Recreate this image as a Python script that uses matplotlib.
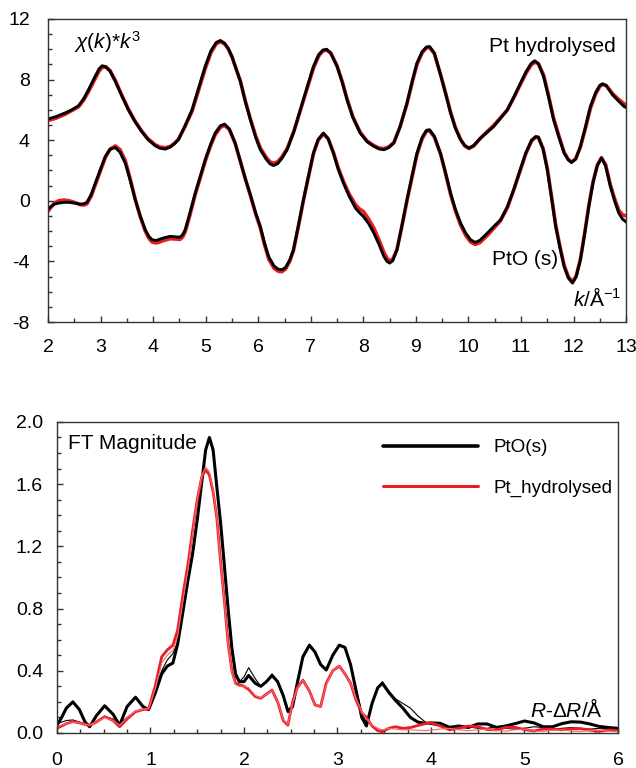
import numpy as np
import matplotlib
matplotlib.use('Agg')
import matplotlib.pyplot as plt
from matplotlib.ticker import MultipleLocator, FormatStrFormatter
from matplotlib.lines import Line2D

# --- EXAFS data ---

# top panel, Pt hydrolysed (offset curve), k in 1/A
k_hyd = [2.00, 2.15, 2.32, 2.45, 2.58, 2.68, 2.77, 2.88, 2.97, 3.03, 3.10, 3.18, 3.28, 3.40, 3.53,
         3.65, 3.78, 3.90, 4.04, 4.13, 4.23, 4.33, 4.40, 4.48, 4.60, 4.74, 4.87, 4.99, 5.10, 5.20,
         5.28, 5.36, 5.43, 5.50, 5.58, 5.66, 5.75, 5.85, 5.95, 6.04, 6.15, 6.22, 6.29, 6.37, 6.45,
         6.55, 6.68, 6.80, 6.93, 7.05, 7.15, 7.23, 7.30, 7.38, 7.50, 7.60, 7.69, 7.80, 7.94, 8.07,
         8.20, 8.30, 8.39, 8.48, 8.58, 8.70, 8.83, 8.93, 9.02, 9.12, 9.20, 9.26, 9.35, 9.47, 9.57,
         9.66, 9.75, 9.85, 9.93, 10.01, 10.10, 10.23, 10.35, 10.48, 10.60, 10.74, 10.87, 10.99, 11.10, 11.19,
         11.26, 11.33, 11.43, 11.52, 11.62, 11.72, 11.82, 11.90, 11.96, 12.04, 12.13, 12.22, 12.32, 12.42, 12.50,
         12.55, 12.62, 12.74, 12.85, 12.96, 13.00]
hyd_data = [5.40, 5.55, 5.79, 6.00, 6.27, 6.75, 7.33, 8.10, 8.70, 8.91, 8.85, 8.55, 7.88, 6.95, 6.00,
            5.25, 4.58, 4.05, 3.63, 3.47, 3.41, 3.55, 3.75, 4.03, 4.90, 6.00, 7.50, 8.87, 9.90, 10.45,
            10.58, 10.40, 10.05, 9.52, 8.70, 7.88, 6.60, 5.35, 4.20, 3.37, 2.75, 2.45, 2.33, 2.45, 2.80,
            3.37, 4.60, 6.00, 7.50, 8.87, 9.65, 9.95, 10.00, 9.75, 8.87, 7.80, 6.67, 5.50, 4.47, 3.90,
            3.59, 3.42, 3.37, 3.50, 3.81, 4.90, 6.45, 7.90, 9.09, 9.85, 10.15, 10.18, 9.75, 8.30, 7.00,
            5.79, 4.80, 4.03, 3.65, 3.48, 3.65, 4.14, 4.50, 4.90, 5.40, 6.00, 6.90, 7.77, 8.55, 9.05,
            9.24, 9.05, 8.20, 6.90, 5.35, 4.20, 3.15, 2.70, 2.53, 2.75, 3.59, 4.80, 6.23, 7.15, 7.62,
            7.72, 7.60, 7.00, 6.60, 6.23, 6.15]
hyd_fit = [5.30, 5.45, 5.70, 5.95, 6.20, 6.65, 7.20, 7.95, 8.55, 8.80, 8.82, 8.60, 7.95, 7.00, 6.05,
           5.30, 4.62, 4.10, 3.70, 3.55, 3.50, 3.60, 3.78, 4.05, 4.85, 5.90, 7.35, 8.70, 9.78, 10.35,
           10.50, 10.35, 10.02, 9.50, 8.70, 7.90, 6.65, 5.42, 4.30, 3.48, 2.88, 2.58, 2.48, 2.58, 2.90,
           3.45, 4.60, 5.95, 7.40, 8.75, 9.55, 9.88, 9.95, 9.75, 8.90, 7.85, 6.72, 5.55, 4.52, 3.95,
           3.65, 3.48, 3.45, 3.55, 3.85, 4.90, 6.40, 7.82, 9.00, 9.78, 10.08, 10.12, 9.72, 8.32, 7.05,
           5.85, 4.85, 4.05, 3.62, 3.45, 3.62, 4.14, 4.55, 4.98, 5.45, 6.00, 6.85, 7.70, 8.45, 8.95,
           9.15, 9.05, 8.30, 7.00, 5.45, 4.30, 3.20, 2.72, 2.55, 2.78, 3.55, 4.70, 6.10, 7.05, 7.55,
           7.68, 7.62, 7.08, 6.72, 6.40, 6.35]

# top panel, PtO (s)
k_pto = [2.00, 2.05, 2.12, 2.20, 2.30, 2.40, 2.50, 2.61, 2.68, 2.74, 2.82, 2.90, 3.00, 3.09, 3.18,
         3.28, 3.37, 3.47, 3.56, 3.66, 3.75, 3.85, 3.92, 3.98, 4.05, 4.10, 4.20, 4.32, 4.42, 4.51,
         4.56, 4.61, 4.70, 4.80, 4.90, 4.99, 5.09, 5.18, 5.28, 5.36, 5.45, 5.56, 5.66, 5.75, 5.85,
         5.95, 6.04, 6.12, 6.20, 6.30, 6.38, 6.45, 6.52, 6.60, 6.67, 6.76, 6.86, 6.96, 7.05, 7.14,
         7.24, 7.33, 7.43, 7.52, 7.62, 7.73, 7.85, 7.93, 8.00, 8.10, 8.20, 8.30, 8.39, 8.45, 8.50,
         8.56, 8.64, 8.73, 8.83, 8.93, 9.02, 9.12, 9.20, 9.26, 9.35, 9.47, 9.56, 9.66, 9.75, 9.85,
         9.95, 10.04, 10.13, 10.22, 10.36, 10.48, 10.61, 10.74, 10.86, 10.98, 11.09, 11.20, 11.28, 11.33, 11.42,
         11.50, 11.58, 11.66, 11.74, 11.82, 11.90, 11.98, 12.05, 12.13, 12.21, 12.29, 12.37, 12.45, 12.53, 12.61,
         12.70, 12.78, 12.86, 12.93, 13.00]
pto_data = [-0.55, -0.40, -0.22, -0.15, -0.10, -0.10, -0.15, -0.22, -0.20, -0.10, 0.40, 1.17, 2.10, 2.93, 3.40,
            3.52, 3.20, 2.49, 1.40, 0.07, -0.95, -1.91, -2.35, -2.57, -2.62, -2.57, -2.45, -2.35, -2.38, -2.40,
            -2.25, -1.91, -0.80, 0.50, 1.65, 2.70, 3.70, 4.47, 4.95, 5.06, 4.75, 3.81, 2.60, 1.50, 0.40,
            -0.80, -1.70, -2.80, -3.70, -4.30, -4.52, -4.55, -4.40, -3.90, -3.23, -1.70, 0.07, 1.70, 3.15, 4.05,
            4.47, 4.10, 3.15, 2.10, 1.17, 0.30, -0.48, -0.80, -1.03, -1.50, -2.13, -2.90, -3.67, -4.00, -4.11,
            -3.95, -3.23, -1.70, 0.07, 1.70, 3.15, 4.20, 4.65, 4.69, 4.25, 3.10, 1.90, 0.50, -0.55, -1.47,
            -2.15, -2.57, -2.75, -2.60, -2.13, -1.70, -1.25, -0.40, 0.73, 2.00, 3.15, 4.00, 4.24, 4.20, 3.40,
            2.05, 0.20, -1.70, -3.10, -4.34, -5.10, -5.43, -5.00, -3.89, -2.20, -0.38, 1.20, 2.30, 2.82, 2.30,
            0.95, 0.00, -0.81, -1.20, -1.40]
pto_fit = [-0.70, -0.45, -0.15, 0.00, 0.05, 0.00, -0.10, -0.25, -0.28, -0.20, 0.30, 1.05, 2.00, 2.85, 3.40,
           3.62, 3.38, 2.65, 1.50, 0.10, -1.00, -2.00, -2.48, -2.72, -2.78, -2.75, -2.62, -2.50, -2.52, -2.55,
           -2.40, -2.05, -0.95, 0.40, 1.55, 2.60, 3.60, 4.35, 4.85, 4.98, 4.70, 3.80, 2.60, 1.50, 0.35,
           -0.85, -1.80, -2.90, -3.85, -4.45, -4.65, -4.68, -4.50, -3.98, -3.30, -1.75, 0.02, 1.65, 3.10, 4.00,
           4.42, 4.10, 3.20, 2.20, 1.30, 0.45, -0.25, -0.55, -0.70, -1.20, -1.80, -2.60, -3.40, -3.80, -3.95,
           -3.85, -3.20, -1.75, 0.00, 1.62, 3.05, 4.10, 4.58, 4.62, 4.22, 3.08, 1.85, 0.42, -0.65, -1.60,
           -2.30, -2.72, -2.88, -2.75, -2.28, -1.82, -1.32, -0.45, 0.70, 1.95, 3.10, 3.95, 4.20, 4.18, 3.45,
           2.15, 0.30, -1.60, -3.00, -4.25, -5.00, -5.35, -4.95, -3.85, -2.15, -0.30, 1.25, 2.35, 2.85, 2.38,
           1.05, 0.15, -0.62, -0.92, -1.00]

# bottom panel, FT magnitude, R in A
r = [0.00, 0.05, 0.10, 0.17, 0.24, 0.30, 0.35, 0.42, 0.51, 0.60, 0.67, 0.75, 0.84, 0.92, 0.98,
     1.05, 1.12, 1.18, 1.24, 1.29, 1.35, 1.40, 1.45, 1.50, 1.55, 1.59, 1.63, 1.67, 1.71, 1.75,
     1.79, 1.83, 1.87, 1.91, 1.95, 2.00, 2.05, 2.12, 2.18, 2.24, 2.30, 2.36, 2.42, 2.47, 2.52,
     2.57, 2.63, 2.70, 2.76, 2.82, 2.88, 2.95, 3.02, 3.08, 3.14, 3.20, 3.26, 3.31, 3.37, 3.43,
     3.48, 3.55, 3.62, 3.70, 3.78, 3.86, 3.94, 4.00, 4.1, 4.2, 4.3, 4.4, 4.5, 4.6, 4.7,
     4.8, 4.9, 5.0, 5.1, 5.2, 5.3, 5.4, 5.5, 5.6, 5.7, 5.8, 5.9, 6.0]
ft_pto_data = [0.05, 0.10, 0.16, 0.20, 0.15, 0.07, 0.04, 0.11, 0.175, 0.12, 0.05, 0.17, 0.23, 0.17, 0.15,
               0.255, 0.38, 0.43, 0.45, 0.57, 0.79, 0.98, 1.15, 1.37, 1.62, 1.82, 1.90, 1.82, 1.58, 1.35,
               1.08, 0.80, 0.55, 0.38, 0.33, 0.33, 0.37, 0.32, 0.30, 0.33, 0.37, 0.33, 0.24, 0.14, 0.17,
               0.32, 0.49, 0.565, 0.52, 0.44, 0.405, 0.50, 0.565, 0.55, 0.44, 0.27, 0.10, 0.045, 0.19, 0.29,
               0.32, 0.26, 0.21, 0.16, 0.10, 0.07, 0.062, 0.065, 0.062, 0.036, 0.045, 0.035, 0.058, 0.058, 0.036,
               0.045, 0.06, 0.077, 0.065, 0.04, 0.04, 0.06, 0.072, 0.07, 0.058, 0.042, 0.035, 0.03]
ft_pto_fit = [0.06, 0.07, 0.08, 0.084, 0.07, 0.055, 0.05, 0.07, 0.105, 0.09, 0.06, 0.10, 0.137, 0.15, 0.155,
              0.27, 0.40, 0.47, 0.51, 0.58, 0.80, 0.99, 1.16, 1.38, 1.62, 1.81, 1.89, 1.81, 1.57, 1.33,
              1.05, 0.77, 0.52, 0.36, 0.33, 0.36, 0.42, 0.35, 0.30, 0.33, 0.38, 0.33, 0.23, 0.13, 0.16,
              0.31, 0.48, 0.56, 0.52, 0.44, 0.41, 0.50, 0.56, 0.55, 0.44, 0.28, 0.13, 0.07, 0.18, 0.29,
              0.33, 0.27, 0.22, 0.19, 0.16, 0.11, 0.07, 0.055, 0.045, 0.03, 0.035, 0.04, 0.03, 0.03, 0.04,
              0.03, 0.025, 0.03, 0.04, 0.035, 0.025, 0.03, 0.035, 0.03, 0.025, 0.03, 0.03, 0.025]
ft_hyd_data = [0.03, 0.045, 0.06, 0.073, 0.065, 0.055, 0.05, 0.07, 0.105, 0.08, 0.04, 0.09, 0.137, 0.15, 0.155,
               0.30, 0.49, 0.534, 0.565, 0.66, 0.90, 1.08, 1.30, 1.50, 1.65, 1.69, 1.66, 1.55, 1.38, 1.10,
               0.85, 0.58, 0.40, 0.32, 0.31, 0.30, 0.28, 0.234, 0.223, 0.25, 0.276, 0.20, 0.08, 0.05, 0.20,
               0.29, 0.34, 0.27, 0.18, 0.17, 0.32, 0.40, 0.43, 0.38, 0.32, 0.21, 0.13, 0.10, 0.045, 0.015,
               0.008, 0.03, 0.04, 0.03, 0.035, 0.048, 0.06, 0.065, 0.045, 0.02, 0.03, 0.045, 0.04, 0.022, 0.02,
               0.036, 0.036, 0.022, 0.013, 0.025, 0.025, 0.02, 0.027, 0.028, 0.018, 0.01, 0.02, 0.013]
ft_hyd_fit = [0.04, 0.05, 0.06, 0.07, 0.065, 0.055, 0.05, 0.07, 0.10, 0.08, 0.05, 0.10, 0.14, 0.15, 0.16,
              0.28, 0.45, 0.50, 0.53, 0.62, 0.86, 1.05, 1.28, 1.50, 1.66, 1.71, 1.68, 1.56, 1.38, 1.10,
              0.84, 0.57, 0.39, 0.31, 0.30, 0.30, 0.29, 0.24, 0.225, 0.25, 0.275, 0.20, 0.085, 0.055, 0.19,
              0.29, 0.34, 0.27, 0.18, 0.17, 0.31, 0.40, 0.43, 0.38, 0.32, 0.22, 0.14, 0.09, 0.05, 0.03,
              0.02, 0.03, 0.025, 0.02, 0.02, 0.018, 0.015, 0.018, 0.025, 0.03, 0.02, 0.015, 0.02, 0.025, 0.015,
              0.012, 0.02, 0.025, 0.015, 0.01, 0.018, 0.02, 0.012, 0.01, 0.015, 0.018, 0.012, 0.01]

RED = '#ed1c24'


def style_axes(ax):
    for s in ax.spines.values():
        s.set_color('#333333')
        s.set_linewidth(1.0)
    ax.tick_params(which='both', direction='in', color='#333333', width=1.0,
                   top=False, right=False, labelsize=14)
    ax.tick_params(which='major', length=4)
    ax.tick_params(which='minor', length=3)


def main():
    plt.rcParams['font.family'] = ['Liberation Sans', 'DejaVu Sans']
    plt.rcParams['mathtext.fontset'] = 'custom'
    plt.rcParams['mathtext.rm'] = 'Liberation Sans'
    plt.rcParams['mathtext.it'] = 'Liberation Sans:italic'
    plt.rcParams['axes.unicode_minus'] = False
    plt.rcParams['lines.solid_joinstyle'] = 'round'
    plt.rcParams['lines.solid_capstyle'] = 'round'

    fig = plt.figure(figsize=(6.36, 7.68), dpi=100)

    # --- top panel: chi(k)*k^3 ---
    ax1 = fig.add_axes([0.0755, 0.5807, 0.909, 0.3946])
    ax1.plot(k_hyd, hyd_fit, color=RED, lw=2.6)
    ax1.plot(k_hyd, hyd_data, color='black', lw=2.1)
    ax1.plot(k_pto, pto_fit, color=RED, lw=2.6)
    ax1.plot(k_pto, pto_data, color='black', lw=2.1)
    ax1.set_xlim(2, 13)
    ax1.set_ylim(-8, 12)
    ax1.xaxis.set_major_locator(MultipleLocator(1))
    ax1.xaxis.set_minor_locator(MultipleLocator(0.5))
    ax1.yaxis.set_major_locator(MultipleLocator(4))
    ax1.yaxis.set_minor_locator(MultipleLocator(1))
    style_axes(ax1)
    ax1.tick_params(axis='x', which='major', pad=12)
    ax1.tick_params(axis='y', which='major', pad=13)

    ax1.text(2.5, 10.45, r'$\chi(k)$*$k^{\mathregular{3}}$', fontsize=15, ha='left', va='center')
    ax1.text(12.8, 10.2, 'Pt hydrolysed', fontsize=15, ha='right', va='center')
    ax1.text(10.45, -3.85, 'PtO (s)', fontsize=15, ha='left', va='center')
    ax1.text(12.9, -6.45, r'$k$/Å$^{\mathregular{-1}}$', fontsize=15, ha='right', va='center')

    # --- bottom panel: FT magnitude ---
    ax2 = fig.add_axes([0.0896, 0.0456, 0.882, 0.405])
    ax2.plot(r, ft_pto_data, color='black', lw=2.2)
    ax2.plot(r, ft_pto_fit, color='black', lw=0.8)
    ax2.plot(r, ft_hyd_data, color=RED, lw=2.0)
    ax2.plot(r, ft_hyd_fit, color='#f26a6a', lw=0.8)
    ax2.set_xlim(0, 6)
    ax2.set_ylim(0, 2.0)
    ax2.xaxis.set_major_locator(MultipleLocator(1))
    ax2.xaxis.set_minor_locator(MultipleLocator(0.25))
    ax2.yaxis.set_major_locator(MultipleLocator(0.4))
    ax2.yaxis.set_minor_locator(MultipleLocator(0.1))
    ax2.yaxis.set_major_formatter(FormatStrFormatter('%.1f'))
    style_axes(ax2)
    ax2.tick_params(axis='x', which='major', pad=14)
    ax2.tick_params(axis='y', which='major', pad=10)

    ax2.text(0.12, 1.86, 'FT Magnitude', fontsize=15, ha='left', va='center')
    ax2.text(5.84, 0.148, r'$R$-$ΔR$/Å', fontsize=15, ha='right', va='center')

    handles = [Line2D([], [], color='black', lw=2.6), Line2D([], [], color=RED, lw=2.2)]
    ax2.legend(handles, ['PtO(s)', 'Pt_hydrolysed'], loc='upper left', bbox_to_anchor=(0.582, 0.945),
               frameon=False, fontsize=13.6, handlelength=5.0, handletextpad=0.8,
               labelspacing=1.25, borderpad=0, borderaxespad=0)

    fig.savefig('out.png', dpi=100)


if __name__ == '__main__':
    main()
